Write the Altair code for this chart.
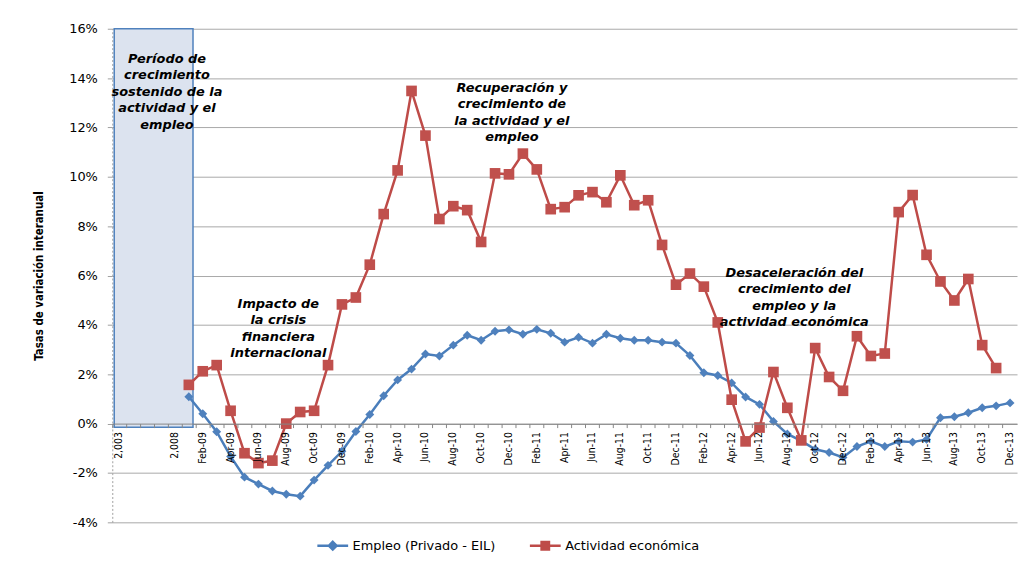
import altair as alt
import pandas as pd

S_EMP = "Empleo (Privado - EIL)"
S_ACT = "Actividad económica"

# x categories (blank slots between 2,003 and 2,008 as in the source sheet)
pre_cats = ["2,003", " ", "  ", "   ", "2,008"]
months = [
    "Jan-09", "Feb-09", "Mar-09", "Apr-09", "May-09", "Jun-09", "Jul-09", "Aug-09", "Sep-09", "Oct-09", "Nov-09", "Dec-09",
    "Jan-10", "Feb-10", "Mar-10", "Apr-10", "May-10", "Jun-10", "Jul-10", "Aug-10", "Sep-10", "Oct-10", "Nov-10", "Dec-10",
    "Jan-11", "Feb-11", "Mar-11", "Apr-11", "May-11", "Jun-11", "Jul-11", "Aug-11", "Sep-11", "Oct-11", "Nov-11", "Dec-11",
    "Jan-12", "Feb-12", "Mar-12", "Apr-12", "May-12", "Jun-12", "Jul-12", "Aug-12", "Sep-12", "Oct-12", "Nov-12", "Dec-12",
    "Jan-13", "Feb-13", "Mar-13", "Apr-13", "May-13", "Jun-13", "Jul-13", "Aug-13", "Sep-13", "Oct-13", "Nov-13", "Dec-13",
]
cats = pre_cats + months

empleo = [
    1.09, 0.40, -0.33, -1.33, -2.17, -2.45, -2.73, -2.86, -2.94, -2.29, -1.69, -1.12,
    -0.32, 0.37, 1.13, 1.77, 2.21, 2.82, 2.74, 3.18, 3.58, 3.38, 3.74, 3.80,
    3.62, 3.82, 3.66, 3.30, 3.50, 3.26, 3.62, 3.46, 3.38, 3.38, 3.30, 3.26,
    2.76, 2.06, 1.95, 1.65, 1.08, 0.78, 0.09, -0.42, -0.70, -1.04, -1.17, -1.37,
    -0.93, -0.72, -0.93, -0.72, -0.75, -0.64, 0.24, 0.28, 0.44, 0.64, 0.72, 0.84,
]
actividad = [
    1.57, 2.12, 2.37, 0.52, -1.20, -1.60, -1.50, 0.00, 0.47, 0.52, 2.37, 4.83,
    5.11, 6.44, 8.49, 10.26, 13.48, 11.67, 8.29, 8.81, 8.65, 7.36, 10.14, 10.10,
    10.94, 10.30, 8.69, 8.77, 9.25, 9.38, 8.97, 10.06, 8.85, 9.05, 7.24, 5.63,
    6.08, 5.55, 4.10, 0.97, -0.72, -0.16, 2.09, 0.64, -0.68, 3.06, 1.89, 1.33,
    3.54, 2.74, 2.84, 8.57, 9.26, 6.84, 5.76, 4.99, 5.86, 3.18, 2.25, None,
]

# shaded period box
box_start = ["2,003"]
box_end = ["Jan-09"]
box_top = [16.0]
box_bottom = [-0.15]

# annotations (value = first line position)
ann_cat = ["   ", "Jul-09", "Dec-10", "Aug-12"]
ann_val = [14.79, 4.85, 13.6, 6.11]
ann_text = [
    "Período de\ncrecimiento\nsostenido de la\nactividad y el\nempleo",
    "Impacto de\nla crisis\nfinanciera\ninternacional",
    "Recuperación y\ncrecimiento de\nla actividad y el\nempleo",
    "Desaceleración del\ncrecimiento del\nempleo y la\nactividad económica",
]
ann_dx = [6, 6, 3, 7]

emp_df = pd.DataFrame({"cat": months, "idx": list(range(len(months))), "serie": S_EMP, "val": empleo})
act_rows = [(m, i, a) for i, (m, a) in enumerate(zip(months, actividad)) if a is not None]
act_df = pd.DataFrame({"cat": [r[0] for r in act_rows], "idx": [r[1] for r in act_rows],
                       "serie": S_ACT, "val": [r[2] for r in act_rows]})

box_df = pd.DataFrame({"c0": box_start, "c1": box_end, "val": box_top, "val2": box_bottom})

W, H = 911, 497
PAD_TOP, PAD_LEFT = 19, 105
SVG_H = 545

NARROW = "'Liberation Sans Narrow', 'DejaVu Sans Condensed', 'Arial Narrow', 'Roboto Condensed', 'Liberation Sans', sans-serif"
BLUE, RED = "#4a7ebb", "#be4b48"
xscale = alt.Scale(domain=cats, paddingInner=0, paddingOuter=0)
yscale = alt.Scale(domain=[-4, 16], nice=False, zero=False)
color_scale = alt.Scale(domain=[S_EMP, S_ACT], range=[BLUE, RED])

xaxis = alt.Axis(
    title=None, labelAngle=-90, labelFont=NARROW, labelFontSize=10.5,
    labelColor="#000000", labelPadding=4,
    labelExpr="test(/^(Feb|Apr|Jun|Aug|Oct|Dec|2,)/, datum.label) ? datum.label : ''",
    tickSize=4, tickColor="#868686", domainColor="#868686", bandPosition=0,
    offset=-H * 0.2, grid=False, labelOverlap=False,
)
yaxis = alt.Axis(
    title="Tasas de variación interanual", values=list(range(-4, 17, 2)),
    labelExpr="datum.value + '%'", labelFont="DejaVu Sans", labelFontSize=13,
    labelColor="#000000", labelPadding=10, tickSize=5, tickColor="#a0a0a0",
    domainColor="#a0a0a0", domainDash=[2, 2], gridColor="#a8a8a8", gridWidth=1,
    titleFont=NARROW, titleFontSize=11.5, titleFontWeight="bold",
    titleColor="#000000", titleX=-73, titleY=H / 2, titleAngle=270,
    titleBaseline="middle", titleAlign="center",
)

box = alt.Chart(box_df).mark_rect(fill="#dce3ef", stroke="#4f81bd", strokeWidth=1.5).encode(
    x=alt.X("c0:N", scale=xscale, bandPosition=0.14, axis=xaxis, title=None),
    x2=alt.X2("c1", bandPosition=0.8),
    y=alt.Y("val:Q", scale=yscale, axis=yaxis),
    y2="val2:Q",
)

DIAMOND_LEG = "M-1,0H1M0,-0.25L0.25,0L0,0.25L-0.25,0ZM0,-0.11L0.11,0L0,0.11L-0.11,0Z"
SQUARE_LEG = "M-1,0H1M-0.24,-0.24H0.24V0.24H-0.24ZM-0.11,-0.11H0.11V0.11H-0.11Z"
legend_shape = alt.ExprRef(expr="datum.value === '" + S_EMP + "' ? '" + DIAMOND_LEG + "' : '" + SQUARE_LEG + "'")

legend = alt.Legend(
    orient="none", legendX=205, legendY=503.5, direction="horizontal",
    symbolSize=961, symbolStrokeWidth=2.5, labelFont="DejaVu Sans",
    labelFontSize=13, labelColor="#000000", labelOffset=3, columnPadding=29,
    symbolType=legend_shape, title=None,
)


def line_layer(d):
    return alt.Chart(d).mark_line(strokeWidth=2.5).encode(
        x=alt.X("cat:N", scale=xscale, sort=cats, title=None),
        y=alt.Y("val:Q", scale=yscale),
        color=alt.Color("serie:N", scale=color_scale, legend=legend, title=None),
        order=alt.Order("idx:Q"),
    )


def point_layer(d, shape, size, color):
    return alt.Chart(d).mark_point(filled=True, opacity=1, strokeWidth=0, shape=shape,
                                   size=size, color=color).encode(
        x=alt.X("cat:N", scale=xscale, sort=cats, title=None),
        y=alt.Y("val:Q", scale=yscale),
    )


layers = [
    box,
    line_layer(emp_df), point_layer(emp_df, "diamond", 80, "#4f81bd"),
    line_layer(act_df), point_layer(act_df, "square", 115, "#c0504d"),
]
for c, v, t, d in zip(ann_cat, ann_val, ann_text, ann_dx):
    tdf = pd.DataFrame({"cat": [c], "val": [v], "txt": [t]})
    layers.append(
        alt.Chart(tdf).mark_text(
            font="DejaVu Sans", fontSize=13, fontStyle="italic", fontWeight="bold",
            lineBreak="\n", lineHeight=16.6, align="center", baseline="middle",
            color="#000000", dx=d,
        ).encode(
            x=alt.X("cat:N", scale=xscale, title=None),
            y=alt.Y("val:Q", scale=yscale),
            text="txt:N",
        )
    )

chart = alt.layer(*layers).properties(
    width=W, height=H,
    autosize=alt.AutoSizeParams(type="none"),
    padding={"left": PAD_LEFT, "top": PAD_TOP, "right": 2, "bottom": SVG_H - PAD_TOP - H},
    background="white",
).configure_view(stroke=None)

chart.save("out.html", embed_options={"renderer": "svg", "actions": False})
